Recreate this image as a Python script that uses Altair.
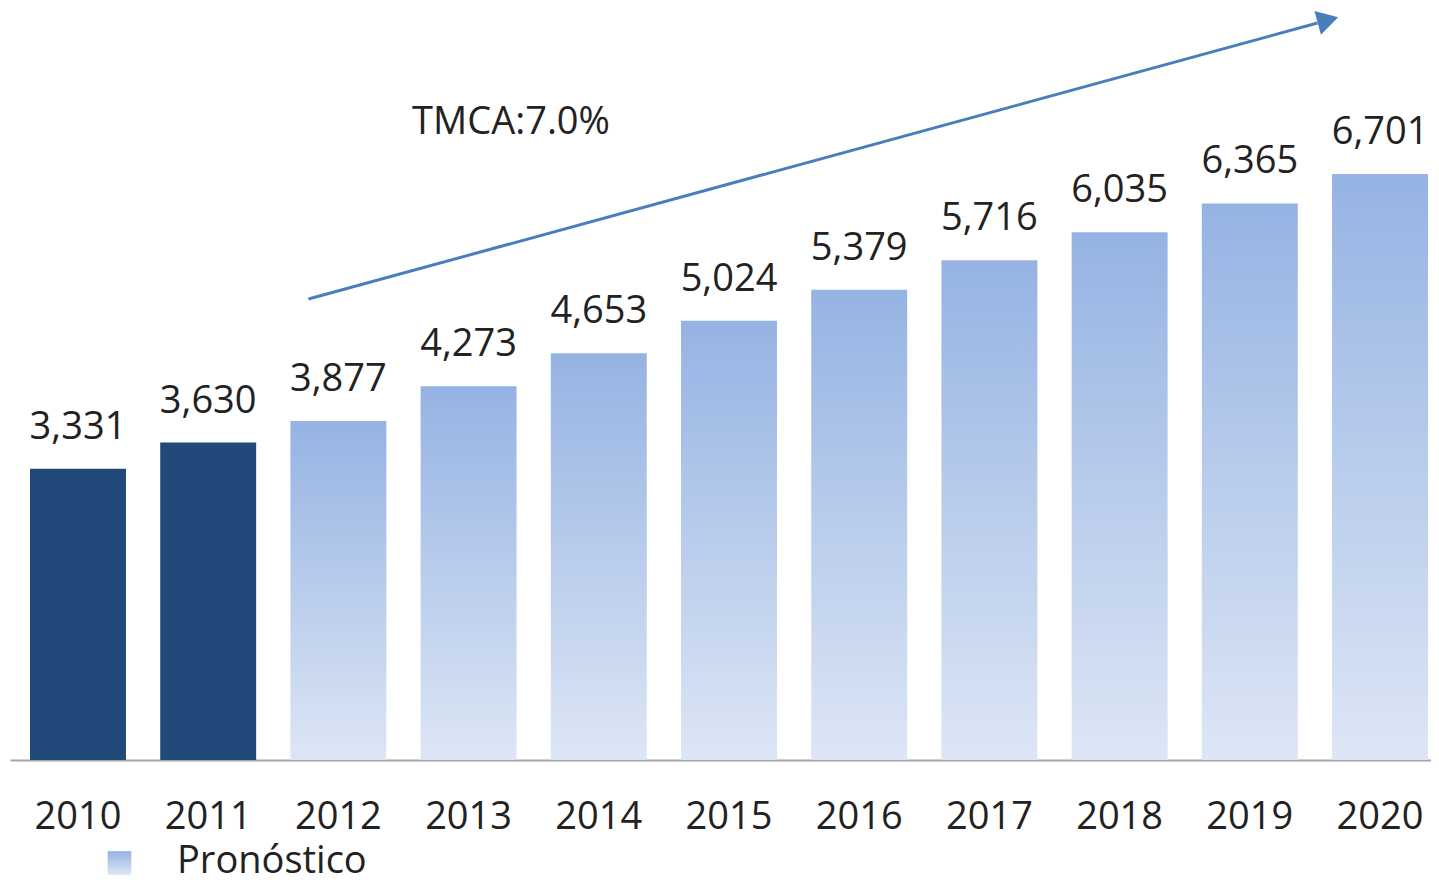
import altair as alt
import pandas as pd

years = ["2010", "2011", "2012", "2013", "2014", "2015", "2016", "2017", "2018", "2019", "2020"]
values = [3331, 3630, 3877, 4273, 4653, 5024, 5379, 5716, 6035, 6365, 6701]
kinds = ["Real", "Real"] + ["Pronóstico"] * 9

# annotation arrow (positions in year / value units)
arrow_x = [2011.77, 2019.52]
arrow_y = [5272, 8428]
head_x = [2019.6]
head_y = [8462]
cagr_text = ["TMCA:7.0%"]
cagr_x = [2013.326]
cagr_y = [7159]
legend_label = ["Pronóstico"]

FONT = "Open Sans"
FS = 38
TXT = "#222222"
DARK = "#214a7b"
ARROW = "#4a7ebb"

df = pd.DataFrame({"anio": years, "valor": values, "tipo": kinds})
df["etiqueta"] = [f"{v:,}" for v in values]

grad = alt.Gradient(
    gradient="linear",
    stops=[alt.GradientStop(color="#95b3e3", offset=0),
           alt.GradientStop(color="#dde6f5", offset=1)],
    x1=0, x2=0, y1=0, y2=1,
)

xband = alt.X(
    "anio:N",
    sort=years,
    scale=alt.Scale(domain=years, paddingInner=0.263, paddingOuter=0.0883, align=0.87),
    axis=alt.Axis(
        title=None, ticks=False, tickSize=0, labelPadding=68,
        labelBaseline="alphabetic", labelFont=FONT, labelFontSize=FS,
        labelColor=TXT, domainColor="#a6a6a6", domainWidth=2, grid=False,
        labelAngle=0,
    ),
)
yscale = alt.Y("valor:Q", scale=alt.Scale(domain=[0, 8600], nice=False, zero=True), axis=None)

base = alt.Chart(df)
hist = base.transform_filter(alt.datum.tipo == "Real").mark_bar(color=DARK).encode(x=xband, y=yscale)
fore = base.transform_filter(alt.datum.tipo == "Pronóstico").mark_bar(color=grad).encode(x=xband, y=yscale)
labels = base.mark_text(font=FONT, fontSize=FS, color=TXT, baseline="alphabetic", dy=-30).encode(
    x=xband, y=yscale, text="etiqueta:N"
)
bars = alt.layer(hist, fore, labels)

xq = alt.Scale(domain=[2009.4777, 2020.3917], nice=False, zero=False)
arrow_df = pd.DataFrame({"x": arrow_x, "valor": arrow_y})
head_df = pd.DataFrame({"x": head_x, "valor": head_y})
cagr_df = pd.DataFrame({"x": cagr_x, "valor": cagr_y, "t": cagr_text})

arrow_line = alt.Chart(arrow_df).mark_line(color=ARROW, strokeWidth=3, clip=False).encode(
    x=alt.X("x:Q", scale=xq, axis=None), y=alt.Y("valor:Q", axis=None)
)
arrow_head = alt.Chart(head_df).mark_point(
    shape="triangle-right", filled=True, color=ARROW, opacity=1, size=600, angle=344.7, clip=False
).encode(x=alt.X("x:Q", scale=xq, axis=None), y=alt.Y("valor:Q", axis=None))
cagr = alt.Chart(cagr_df).mark_text(
    font=FONT, fontSize=FS, color=TXT, baseline="alphabetic", align="center"
).encode(x=alt.X("x:Q", scale=xq, axis=None), y=alt.Y("valor:Q", axis=None), text="t:N")

leg_df = pd.DataFrame({"t": legend_label})
leg_sq = alt.Chart(leg_df).mark_point(
    shape="square", filled=True, color=grad, opacity=1, size=560
).encode(x=alt.value(109.5), y=alt.value(855))
leg_tx = alt.Chart(leg_df).mark_text(
    font=FONT, fontSize=FS, color=TXT, baseline="alphabetic", align="left"
).encode(x=alt.value(167), y=alt.value(865), text="t:N")

annot = alt.layer(arrow_line, arrow_head, cagr)

chart = alt.layer(bars, annot, leg_sq, leg_tx).resolve_scale(x="independent").properties(
    width=1421, height=752,
    autosize=alt.AutoSizeParams(type="none"),
    padding={"left": 2, "top": 0, "right": 0, "bottom": 116},
).configure(background="white").configure_view(stroke=None)

chart.save("out.html", embed_options={"renderer": "svg", "actions": False})
